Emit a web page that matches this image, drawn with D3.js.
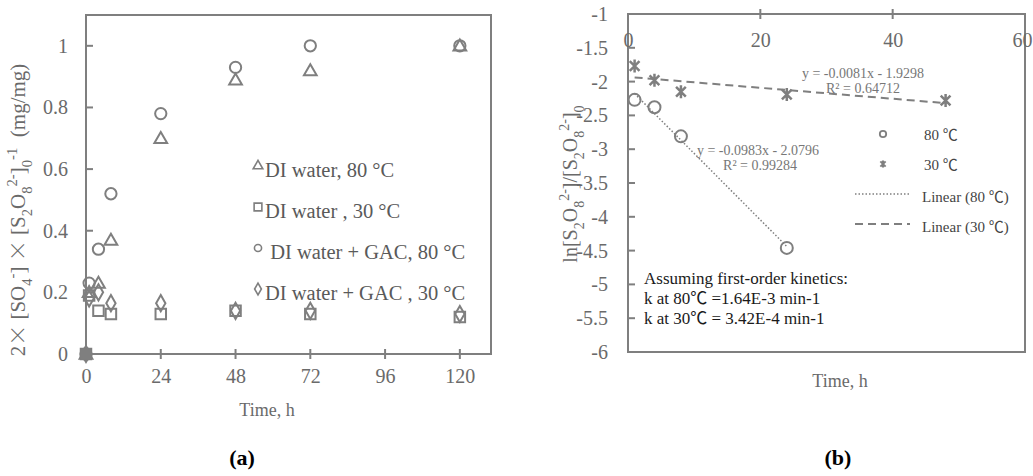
<!DOCTYPE html>
<html><head><meta charset="utf-8">
<script src="https://cdn.jsdelivr.net/npm/d3@7"></script>
<style>
html,body{margin:0;padding:0;background:#fff;}
svg{display:block;}
svg text{font-family:"Liberation Serif","Times New Roman","Noto Sans CJK JP",serif;}
</style></head>
<body>
<svg id="c" width="1033" height="476"></svg>
<script>
// ---------- data: panel (a) ----------
const timesA = [0, 1, 4, 8, 24, 48, 72, 120];
const diWater80 = [0, 0.20, 0.23, 0.37, 0.70, 0.89, 0.92, 1.00];
const diWater30 = [0, 0.19, 0.14, 0.13, 0.13, 0.14, 0.13, 0.12];
const gac80     = [0, 0.23, 0.34, 0.52, 0.78, 0.93, 1.00, 1.00];
const gac30     = [0, 0.18, 0.20, 0.165, 0.165, 0.14, 0.14, 0.13];
const xTicksA = [0, 24, 48, 72, 96, 120];
const yTicksA = [0, 0.2, 0.4, 0.6, 0.8, 1];
const legendA = ["DI water, 80 °C", "DI water , 30 °C", " DI water + GAC, 80 °C", "DI water + GAC , 30 °C"];

// ---------- data: panel (b) ----------
const times80 = [1, 4, 8, 24];
const ln80 = [-2.27, -2.38, -2.81, -4.46];
const times30 = [1, 4, 8, 24, 48];
const ln30 = [-1.77, -1.98, -2.15, -2.19, -2.28];
const fit80 = {slope: -0.0983, intercept: -2.0796, eq: "y = -0.0983x - 2.0796", r2: "R² = 0.99284"};
const fit30 = {slope: -0.0081, intercept: -1.9298, eq: "y = -0.0081x - 1.9298", r2: "R² = 0.64712"};
const xTicksB = [0, 20, 40, 60];
const yTicksB = [-1, -1.5, -2, -2.5, -3, -3.5, -4, -4.5, -5, -5.5, -6];
const notes = ["Assuming first-order kinetics:", "k at 80℃ =1.64E-3 min-1", "k at 30℃ = 3.42E-4 min-1"];

const SERIF = "'Liberation Serif','Times New Roman','Noto Sans CJK JP',serif";
const AX = "#7f7f7f", TXT = "#6a6a6a";
const svg = d3.select("#c");

function rich(sel, parts, fs) {
  let cur = 0;
  parts.forEach(([t, m]) => {
    const target = m === "sub" ? fs * 0.33 : m === "sup" ? -fs * 0.38 : 0;
    const ts = sel.append("tspan").text(t).attr("dy", target - cur);
    if (m === "sub" || m === "sup") ts.attr("font-size", fs * 0.7);
    if (m === "cjk") ts.attr("font-family", "'Noto Sans CJK JP'").attr("font-weight", 300);
    cur = target;
  });
}

// ================= Panel (a) =================
const xA = d3.scaleLinear().domain([0, 130]).range([86, 491]);
const yA = d3.scaleLinear().domain([0, 1.1]).range([354, 15]);
const gA = svg.append("g");

gA.append("path").attr("d", `M${xA(0)},${yA(0)}V${yA(1.1)}H${xA(130)}V${yA(0)}Z`)
  .attr("fill", "none").attr("stroke", AX).attr("stroke-width", 2);
const xAxA = d3.axisBottom(xA).tickValues(xTicksA).tickSize(0).tickPadding(15).tickFormat(d3.format("d"));
gA.append("g").attr("transform", `translate(0,${yA(0)})`).call(xAxA)
  .call(g => { g.select(".domain").remove(); g.selectAll("text").attr("font-size", 20).attr("fill", TXT).attr("font-family", SERIF); });
gA.selectAll(".xtA").data(xTicksA.slice(1)).join("line")
  .attr("x1", d => xA(d)).attr("x2", d => xA(d)).attr("y1", yA(0) - 5).attr("y2", yA(0) + 5)
  .attr("stroke", AX).attr("stroke-width", 2);
const yAxA = d3.axisLeft(yA).tickValues(yTicksA).tickSize(0).tickPadding(18).tickFormat(d => d3.format("")(d));
gA.append("g").attr("transform", `translate(${xA(0)},0)`).call(yAxA)
  .call(g => { g.select(".domain").remove(); g.selectAll("text").attr("font-size", 20).attr("fill", TXT).attr("font-family", SERIF); });
gA.selectAll(".ytA").data(yTicksA.slice(1)).join("line")
  .attr("x1", xA(0)).attr("x2", xA(0) + 7).attr("y1", d => yA(d)).attr("y2", d => yA(d))
  .attr("stroke", AX).attr("stroke-width", 2);

const symType = {tri: d3.symbolTriangle, sq: d3.symbolSquare, circ: d3.symbolCircle, dia: d3.symbolDiamond};
const symSize = {tri: 70, sq: 110, circ: 100, dia: 75};
const seriesA = [
  {vals: diWater30, s: "sq", dy: 0},
  {vals: gac30, s: "dia", dy: 0},
  {vals: diWater80, s: "tri", dy: 1},
  {vals: gac80, s: "circ", dy: 0}
];
seriesA.forEach(se => {
  gA.append("g").selectAll("path").data(timesA.map((t, i) => [t, se.vals[i]])).join("path")
    .attr("d", d3.symbol().type(symType[se.s]).size(symSize[se.s])())
    .attr("transform", d => `translate(${xA(d[0])},${yA(d[1]) + se.dy})`)
    .attr("fill", "none").attr("stroke", AX).attr("stroke-width", 2);
});
gA.append("path").attr("d", d3.symbol().type(d3.symbolSquare).size(130)())
  .attr("transform", `translate(${xA(timesA[0])},${yA(diWater30[0])})`).attr("fill", AX);

// legend (a)
const legSyms = ["tri", "sq", "circ", "dia"];
const legY = [170, 211, 252, 293];
legendA.forEach((t, i) => {
  gA.append("path").attr("d", d3.symbol().type(symType[legSyms[i]]).size(i === 1 ? 60 : 40)())
    .attr("transform", `translate(258,${legY[i] - 4})`).attr("fill", "none").attr("stroke", AX).attr("stroke-width", 1.6);
  gA.append("text").attr("x", 265).attr("y", legY[i]).attr("dy", "0.35em")
    .attr("font-size", 20.5).attr("fill", "#5a5a5a").attr("font-family", SERIF).attr("xml:space", "preserve").text(t);
});

const yl = gA.append("text").attr("transform", "translate(25,210) rotate(-90)")
  .attr("text-anchor", "middle").attr("font-size", 21).attr("fill", TXT).attr("font-family", SERIF).attr("xml:space", "preserve");
rich(yl, [["2", ""], ["×", "cjk"], [" [SO", ""], ["4", "sub"], ["-", "sup"], ["] ", ""], ["×", "cjk"], [" [S", ""], ["2", "sub"], ["O", ""], ["8", "sub"], ["2-", "sup"], ["]", ""], ["0", "sub"], ["-1", "sup"], ["  (mg/mg)", ""]], 21);
gA.append("text").attr("x", 267).attr("y", 410).attr("dy", "0.35em").attr("text-anchor", "middle")
  .attr("font-size", 18).attr("fill", TXT).attr("font-family", SERIF).text("Time, h");
gA.append("text").attr("x", 242).attr("y", 457).attr("dy", "0.35em").attr("text-anchor", "middle")
  .attr("font-size", 22).attr("font-weight", "bold").attr("fill", "#000").attr("font-family", SERIF).text("(a)");

// ================= Panel (b) =================
const xB = d3.scaleLinear().domain([0, 60]).range([628, 1025]);
const yB = d3.scaleLinear().domain([-6, -1]).range([352, 14]);
const gB = svg.append("g");
gB.append("path").attr("d", `M${xB(0)},${yB(-6)}V${yB(-1)}H${xB(60)}V${yB(-6)}Z`)
  .attr("fill", "none").attr("stroke", AX).attr("stroke-width", 2);
const xAxB = d3.axisTop(xB).tickValues(xTicksB).tickSize(0).tickFormat(d3.format("d"));
gB.append("g").attr("transform", `translate(0,${yB(-1)})`).call(xAxB)
  .call(g => { g.select(".domain").remove();
    g.selectAll("text").attr("font-size", 20).attr("fill", TXT).attr("font-family", SERIF).attr("y", 33).attr("dy", "0")
      .attr("x", d => d === 60 ? -3 : 0); });
gB.selectAll(".xtB").data(xTicksB.slice(1, 3)).join("line")
  .attr("x1", d => xB(d)).attr("x2", d => xB(d)).attr("y1", yB(-1) - 5).attr("y2", yB(-1) + 5)
  .attr("stroke", AX).attr("stroke-width", 2);
const yAxB = d3.axisLeft(yB).tickValues(yTicksB).tickSize(0).tickPadding(20).tickFormat(d => d3.format("")(d).replace("−", "-"));
gB.append("g").attr("transform", `translate(${xB(0)},0)`).call(yAxB)
  .call(g => { g.select(".domain").remove(); g.selectAll("text").attr("font-size", 20).attr("fill", TXT).attr("font-family", SERIF); });
gB.selectAll(".ytB").data(yTicksB.slice(1, -1)).join("line")
  .attr("x1", xB(0)).attr("x2", xB(0) + 7).attr("y1", d => yB(d)).attr("y2", d => yB(d))
  .attr("stroke", AX).attr("stroke-width", 2);

const ext80 = d3.extent(times80), ext30 = d3.extent(times30);
gB.append("line").attr("x1", xB(ext80[0])).attr("x2", xB(ext80[1]))
  .attr("y1", yB(fit80.slope * ext80[0] + fit80.intercept)).attr("y2", yB(fit80.slope * ext80[1] + fit80.intercept))
  .attr("stroke", AX).attr("stroke-width", 1.5).attr("stroke-dasharray", "1.5,2");
gB.append("line").attr("x1", xB(ext30[0])).attr("x2", xB(ext30[1]))
  .attr("y1", yB(fit30.slope * ext30[0] + fit30.intercept)).attr("y2", yB(fit30.slope * ext30[1] + fit30.intercept))
  .attr("stroke", AX).attr("stroke-width", 2).attr("stroke-dasharray", "8,5");

function star(s) {
  const h = s * 0.75;
  return `M0,${-s}V${s}M${-h},${-h}L${h},${h}M${-h},${h}L${h},${-h}`;
}
gB.append("g").selectAll("circle").data(times80.map((t, i) => [t, ln80[i]])).join("circle")
  .attr("cx", d => xB(d[0])).attr("cy", d => yB(d[1])).attr("r", 6)
  .attr("fill", "none").attr("stroke", AX).attr("stroke-width", 2);
gB.append("g").selectAll("path").data(times30.map((t, i) => [t, ln30[i]])).join("path")
  .attr("d", star(6.5)).attr("transform", d => `translate(${xB(d[0])},${yB(d[1])})`)
  .attr("fill", "none").attr("stroke", AX).attr("stroke-width", 2.5);

const eqFs = 14, eqC = "#777";
function txt(g, x, y, s, fs, col, anchor) {
  return g.append("text").attr("x", x).attr("y", y).attr("dy", "0.35em").attr("text-anchor", anchor || "start")
    .attr("font-size", fs).attr("fill", col).attr("font-family", SERIF).text(s);
}
txt(gB, 863, 73, fit30.eq, eqFs, eqC, "middle");
txt(gB, 863, 88, fit30.r2, eqFs, eqC, "middle");
txt(gB, 758, 150, fit80.eq, eqFs, eqC, "middle");
txt(gB, 797, 165, fit80.r2, eqFs, eqC, "end");

// legend (b)
const lgC = "#444";
gB.append("circle").attr("cx", 883).attr("cy", 134).attr("r", 3.2).attr("fill", "none").attr("stroke", AX).attr("stroke-width", 1.8);
txt(gB, 924, 135, "80 ℃", 15, lgC);
gB.append("path").attr("d", star(3.5)).attr("transform", "translate(883,164)").attr("fill", "none").attr("stroke", AX).attr("stroke-width", 2);
txt(gB, 924, 165, "30 ℃", 15, lgC);
gB.append("line").attr("x1", 855).attr("x2", 910).attr("y1", 194).attr("y2", 194).attr("stroke", AX).attr("stroke-width", 1.5).attr("stroke-dasharray", "1.5,2");
txt(gB, 922, 197, "Linear (80 ℃)", 15, lgC);
gB.append("line").attr("x1", 855).attr("x2", 910).attr("y1", 224).attr("y2", 224).attr("stroke", AX).attr("stroke-width", 2).attr("stroke-dasharray", "8,5");
txt(gB, 922, 227, "Linear (30 ℃)", 15, lgC);

notes.forEach((t, i) => txt(gB, 644, 278 + i * 20, t, 17, "#1a1a1a"));

const yl2 = gB.append("text").attr("transform", "translate(577,184) rotate(-90)")
  .attr("text-anchor", "middle").attr("font-size", 20).attr("fill", TXT).attr("font-family", SERIF);
rich(yl2, [["ln[S", ""], ["2", "sub"], ["O", ""], ["8", "sub"], ["2-", "sup"], ["]/[S", ""], ["2", "sub"], ["O", ""], ["8", "sub"], ["2-", "sup"], ["]", ""], ["0", "sub"]], 20);
txt(gB, 840, 381, "Time, h", 18, TXT, "middle");
txt(gB, 838, 457, "(b)", 22, "#000", "middle").attr("font-weight", "bold");
</script>
</body></html>
